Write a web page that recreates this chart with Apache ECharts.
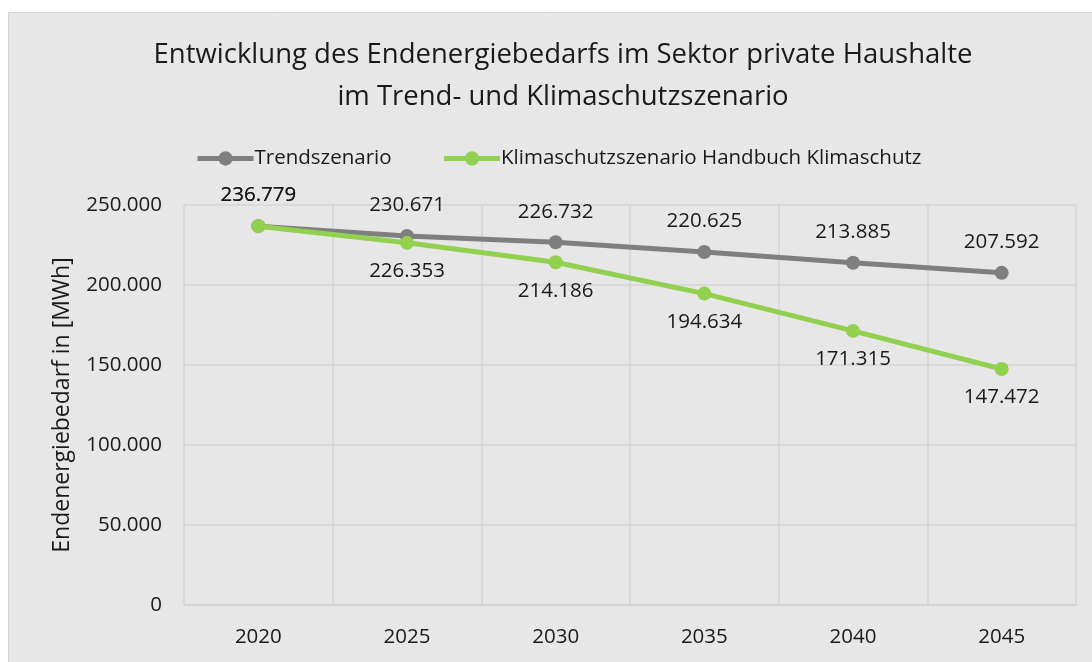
<!DOCTYPE html>
<html><head><meta charset="utf-8">
<script src="https://cdn.jsdelivr.net/npm/echarts@6/dist/echarts.min.js"></script>
<style>html,body{margin:0;padding:0;background:#fff}#c{width:1092px;height:662px}</style>
</head><body><div id="c"></div>
<script>
const categories = ['2020','2025','2030','2035','2040','2045'];
const trendValues = [236779, 230671, 226732, 220625, 213885, 207592];
const klimaValues = [236779, 226353, 214186, 194634, 171315, 147472];
const yTicks = [0, 50000, 100000, 150000, 200000, 250000];

const fmt = v => String(v).replace(/\B(?=(\d{3})+(?!\d))/g, '.');
const FONT = '"Open Sans", sans-serif';
const FS = 20.5;
const chart = echarts.init(document.getElementById('c'));
chart.setOption({
  backgroundColor: '#ffffff',
  animation: false,
  graphic: [{type:'rect', z:-10, shape:{x:8.5,y:12.5,width:1100,height:700}, style:{fill:'#e7e7e7', stroke:'#d4d4d4', lineWidth:1}}],
  title: {
    text: 'Entwicklung des Endenergiebedarfs im Sektor private Haushalte\nim Trend- und Klimaschutzszenario',
    left: 558, top: 29, textAlign: 'center',
    textStyle: {fontFamily: FONT, fontSize: 27.5, fontWeight: 'normal', color: '#1a1a1a', lineHeight: 42}
  },
  legend: {
    top: 143, left: 190, itemGap: 50, itemWidth: 56, itemHeight: 18,
    lineStyle: {width: 5},
    textStyle: {fontFamily: FONT, fontSize: FS, color: '#1a1a1a', padding:[0,0,0,-4]},
    data: ['Trendszenario', 'Klimaschutzszenario Handbuch Klimaschutz']
  },
  grid: {left: 184, right: 16, top: 205, bottom: 57},
  xAxis: {
    type: 'category', data: categories, boundaryGap: true,
    axisLine: {show: true, lineStyle: {color: '#d4d4d4', width: 1.5}},
    axisTick: {show: false},
    splitLine: {show: true, lineStyle: {color: '#d4d4d4', width: 1.5}},
    axisLabel: {fontFamily: FONT, fontSize: FS, color: '#1a1a1a', margin: 22}
  },
  yAxis: {
    type: 'value', min: 0, max: 250000, interval: 50000,
    name: 'Endenergiebedarf in [MWh]', nameLocation: 'middle', nameGap: 110,
    nameTextStyle: {fontFamily: FONT, fontSize: 23, color: '#1a1a1a'},
    axisLine: {show: false}, axisTick: {show: false},
    splitLine: {show: true, lineStyle: {color: '#d4d4d4', width: 1.5}},
    axisLabel: {fontFamily: FONT, fontSize: FS, color: '#1a1a1a', margin: 22, formatter: v => fmt(v)}
  },
  series: [
    {
      name: 'Trendszenario', type: 'line', data: trendValues,
      symbol: 'circle', symbolSize: 14,
      lineStyle: {color: '#7f7f7f', width: 5}, itemStyle: {color: '#7f7f7f'},
      label: {show: true, position: 'top', distance: 13, fontFamily: FONT, fontSize: FS, color: '#1a1a1a', formatter: p => fmt(p.value)},
      z: 2
    },
    {
      name: 'Klimaschutzszenario Handbuch Klimaschutz', type: 'line',
      data: klimaValues.map((v,i) => i === 0 ? {value: v, label: {position: 'top', distance: 13}} : v),
      symbol: 'circle', symbolSize: 14,
      lineStyle: {color: '#92d050', width: 5}, itemStyle: {color: '#92d050'},
      label: {show: true, position: 'bottom', distance: 11, fontFamily: FONT, fontSize: FS, color: '#1a1a1a', formatter: p => fmt(p.value)},
      z: 3
    }
  ]
});
</script></body></html>
